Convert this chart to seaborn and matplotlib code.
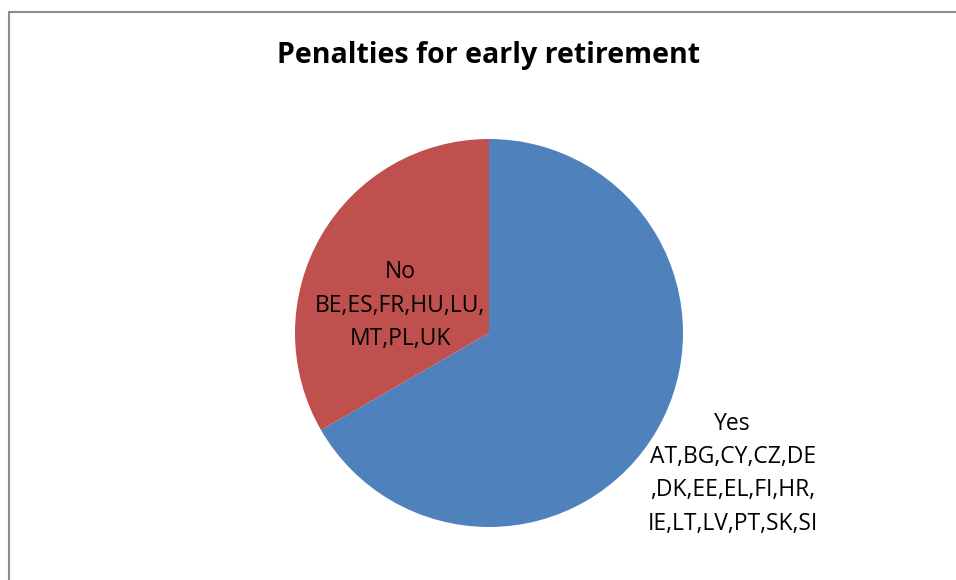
import numpy as np
import matplotlib
matplotlib.use("Agg")
import matplotlib.pyplot as plt
from matplotlib.patches import Rectangle
import seaborn as sns

# Data
categories = ["Yes", "No"]
countries = [
    "AT,BG,CY,CZ,DE\n,DK,EE,EL,FI,HR,\nIE,LT,LV,PT,SK,SI",
    "BE,ES,FR,HU,LU,\nMT,PL,UK",
]
counts = [16, 8]
colors = ["#4F81BD", "#C0504D"]
title = "Penalties for early retirement"

sns.set_theme(style="white")
plt.rcParams["font.family"] = ["Open Sans", "DejaVu Sans"]

W, H = 956, 580
fig = plt.figure(figsize=(W / 100, H / 100), dpi=100)
ax = fig.add_axes([0, 0, 1, 1])

cx, cy, r = 489, H - 333, 194
wedges, _ = ax.pie(counts, colors=colors, startangle=90, counterclock=False,
                   center=(cx, cy), radius=r,
                   wedgeprops=dict(linewidth=0, edgecolor="none"))

# labels positioned along each wedge's mid-angle
label_dist = [1.45, 0.48]
angle_shift = [0, 13]
for w, cat, ctry, d, sh in zip(wedges, categories, countries, label_dist, angle_shift):
    mid = np.deg2rad((w.theta1 + w.theta2) / 2 + sh)
    x = cx + d * r * np.cos(mid)
    y = cy + d * r * np.sin(mid)
    ax.text(x, y, f"{cat}\n{ctry}", ha="center", va="center",
            fontsize=16.5, color="black", linespacing=1.52)

ax.text(489, H - 56, title, ha="center", va="center",
        fontsize=20.5, fontweight="bold", color="black")

# chart frame
ax.add_patch(Rectangle((9.5, -50), 1100, H - 12 + 50, fill=False,
                       edgecolor="#8c8c8c", linewidth=1.5))

ax.set_xlim(0, W)
ax.set_ylim(0, H)
ax.set_aspect("equal")
ax.axis("off")

fig.savefig("out.png", dpi=100)
